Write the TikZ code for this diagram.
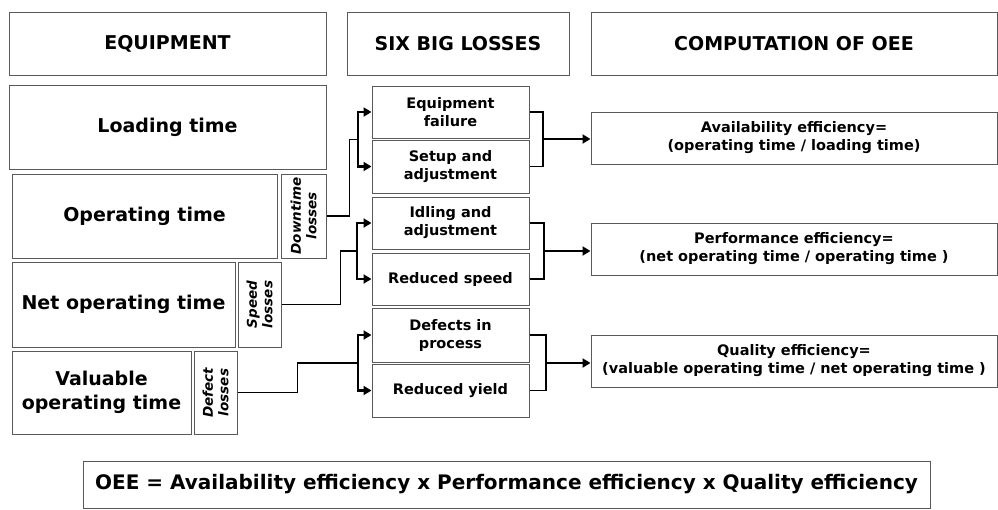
\documentclass[tikz,border=0pt]{standalone}
\usepackage{fontspec}
\setmainfont{DejaVu Sans}
\usetikzlibrary{arrows.meta, positioning, shadows}

\tikzset{
  box/.style={draw=black!65, line width=1pt, inner sep=0pt, align=center},
  headbox/.style={box, fill=white, drop shadow={shadow xshift=1pt, shadow yshift=-1.2pt, opacity=0.45}},
  bigtext/.style={font=\fontsize{19}{24}\selectfont\bfseries},
  midtext/.style={font=\fontsize{14.5}{18}\selectfont\bfseries},
  losstext/.style={font=\fontsize{13.5}{15.5}\selectfont\bfseries\itshape},
  conn/.style={line width=1.2pt},
  brk/.style={line width=2.6pt, -{Triangle[length=8pt,width=9pt]}}
}

\begin{document}
\begin{tikzpicture}[x=1pt, y=-1pt]
    \useasboundingbox (0,0) rectangle (998,509);

    % headers
    \node [headbox,bigtext,minimum width=317,minimum height=63] (hequip) at (167.5,43.5) {EQUIPMENT};
    \node [headbox,bigtext,minimum width=222,minimum height=63] (hloss) at (458,43.5) {SIX BIG LOSSES};
    \node [headbox,bigtext,minimum width=406,minimum height=63] (hcomp) at (794,43.5) {COMPUTATION OF OEE};

    % equipment times
    \node [box,bigtext,minimum width=317,minimum height=84] (load) at (167.5,127) {Loading time};
    \node [box,bigtext,minimum width=265,minimum height=84] (oper) at (144.5,216) {Operating time};
    \node [box,losstext,rotate=90,minimum width=84,minimum height=45] (down) at (303.5,216) {Downtime\\losses};
    \node [box,bigtext,minimum width=223,minimum height=85] (net) at (123.5,304.5) {Net operating time};
    \node [box,losstext,rotate=90,minimum width=85,minimum height=43] (speed) at (259.5,304.5) {Speed\\losses};
    \node [box,bigtext,minimum width=179,minimum height=83] (valu) at (101.5,392.5) {Valuable\\operating time};
    \node [box,losstext,rotate=90,minimum width=83,minimum height=43] (defect) at (215.5,392.5) {Defect\\losses};

    % six big losses
    \node [box,midtext,minimum width=157,minimum height=52] (fail) at (450.5,112) {Equipment\\failure};
    \node [box,midtext,minimum width=157,minimum height=53] (setup) at (450.5,166.5) {Setup and\\adjustment};
    \node [box,midtext,minimum width=157,minimum height=52] (idle) at (450.5,223) {Idling and\\adjustment};
    \node [box,midtext,minimum width=157,minimum height=52] (rspeed) at (450.5,279) {Reduced speed};
    \node [box,midtext,minimum width=157,minimum height=54] (dproc) at (450.5,335) {Defects in\\process};
    \node [box,midtext,minimum width=157,minimum height=53] (ryield) at (450.5,390.5) {Reduced yield};

    % computation
    \node [box,midtext,minimum width=406,minimum height=52] (avail) at (794,138) {Availability efficiency=\\(operating time / loading time)};
    \node [box,midtext,minimum width=406,minimum height=52] (perf) at (794,249) {Performance efficiency=\\(net operating time / operating time )};
    \node [box,midtext,minimum width=406,minimum height=52] (qual) at (794,361) {Quality efficiency=\\(valuable operating time / net operating time )};

    \node [box,font=\fontsize{20}{24}\selectfont\bfseries,minimum width=847,minimum height=47] (oee) at (506.5,484.5)
        {OEE = Availability efficiency x Performance efficiency x Quality efficiency};

    % forks into the losses
    \coordinate (fa) at (358,139.5);
    \coordinate (fb) at (357,251);
    \coordinate (fc) at (358,363);
    \draw [conn] (down.south) -- ++(23,0) |- (fa);
    \draw [conn] (speed.south) -- ++(59,0) |- (fb);
    \draw [conn] (defect.south) -- ++(60,0) |- (fc);
    \draw [brk] (fa) |- (fail.west);
    \draw [brk] (fa) |- (setup.west);
    \draw [brk] (fb) |- (idle.west);
    \draw [brk] (fb) |- (rspeed.west);
    \draw [brk] (fc) |- (dproc.west);
    \draw [brk] (fc) |- (ryield.west);

    % brackets to the computation
    \coordinate (ja) at (543,139);
    \coordinate (jb) at (544,251);
    \coordinate (jc) at (546,363);
    \draw [conn] (fail.east) -| (ja) |- (setup.east);
    \draw [conn] (idle.east) -| (jb) |- (rspeed.east);
    \draw [conn] (dproc.east) -| (jc) |- (ryield.east);
    \draw [brk] (ja) -- (avail.west |- ja);
    \draw [brk] (jb) -- (perf.west |- jb);
    \draw [brk] (jc) -- (qual.west |- jc);
\end{tikzpicture}
\end{document}
